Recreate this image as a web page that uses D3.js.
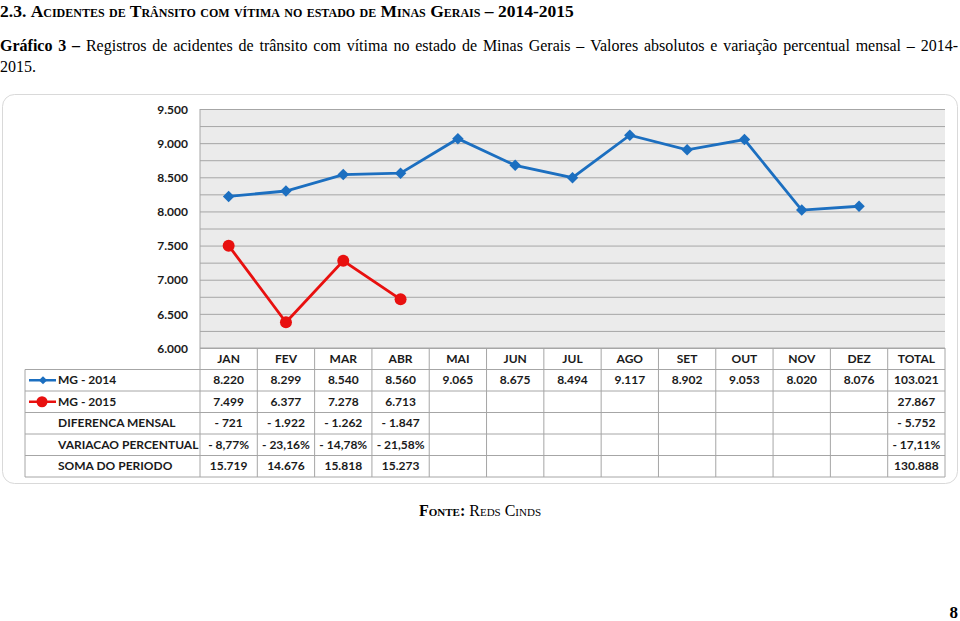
<!DOCTYPE html>
<html>
<head>
<meta charset="utf-8">
<title>Acidentes de trânsito MG 2014-2015</title>
<script src="https://cdn.jsdelivr.net/npm/d3@7"></script>
<style>
  body { margin: 0; background: #fff; }
  svg { display: block; }
  .serif { font-family: "Liberation Serif", "Times New Roman", serif; fill: #000; }
  .cal { font-family: Lato, "Open Sans", sans-serif; font-weight: bold; font-size: 12px; fill: #1a1a1a; }
  .grid line { stroke: #a6a6a6; stroke-width: 1; }
  .grid .domain { display: none; }
  .yaxis .domain, .yaxis line { display: none; }
</style>
</head>
<body>
<div id="chart"></div>
<script>
// data
var months = ["JAN","FEV","MAR","ABR","MAI","JUN","JUL","AGO","SET","OUT","NOV","DEZ"];
var columns = months.concat(["TOTAL"]);
var mg2014 = [8220, 8299, 8540, 8560, 9065, 8675, 8494, 9117, 8902, 9053, 8020, 8076];
var mg2015 = [7499, 6377, 7278, 6713];
var diferenca = [-721, -1922, -1262, -1847];
var variacao = [-8.77, -23.16, -14.78, -21.58];
var soma = [15719, 14676, 15818, 15273];
var totals = { mg2014: 103021, mg2015: 27867, diferenca: -5752, variacao: -17.11, soma: 130888 };
var yTicks = [6000, 6500, 7000, 7500, 8000, 8500, 9000, 9500];

var W = 960, H = 621;
var svg = d3.select("#chart").append("svg").attr("width", W).attr("height", H);

var loc = d3.formatLocale({decimal: ",", thousands: ".", grouping: [3], currency: ["", ""]});
var fInt = loc.format(",d");
var fPct = loc.format(".2f");
function num(v) { return v < 0 ? "- " + fInt(-v) : fInt(v); }
function pct(v) { return (v < 0 ? "- " + fPct(-v) : fPct(v)) + "%"; }

// heading
var h = svg.append("text").attr("class", "serif").attr("x", 0).attr("y", 17)
  .style("font-size", "17.5px").style("font-weight", "bold");
h.append("tspan").text("2.3. ");
h.append("tspan").style("font-variant", "small-caps").text("Acidentes de Trânsito com vítima no estado de Minas Gerais");
h.append("tspan").text(" – 2014-2015");

// justified caption line
function justify(words, x0, x1, y) {
  var g = svg.append("g");
  var nodes = words.map(function(w) {
    return g.append("text").attr("class", "serif").attr("y", y)
      .style("font-size", "16px").style("font-weight", w.b ? "bold" : "normal").text(w.t);
  });
  var widths = nodes.map(function(n) { return n.node().getComputedTextLength(); });
  var gap = (x1 - x0 - d3.sum(widths)) / (words.length - 1);
  var x = x0;
  nodes.forEach(function(n, i) { n.attr("x", x); x += widths[i] + gap; });
}
var cap1 = "Registros de acidentes de trânsito com vítima no estado de Minas Gerais – Valores absolutos e variação percentual mensal – 2014-".split(" ");
justify([{t:"Gráfico", b:1}, {t:"3", b:1}, {t:"–", b:1}].concat(cap1.map(function(t) { return {t: t}; })), 0, 958, 51);
svg.append("text").attr("class", "serif").attr("x", 0).attr("y", 72).style("font-size", "16px").text("2015.");

// chart panel
svg.append("rect").attr("x", 2.5).attr("y", 94.5).attr("width", 955).attr("height", 389)
  .attr("rx", 12).attr("fill", "#fff").attr("stroke", "#d9d9d9");

var pLeft = 200, pRight = 945, pTop = 109, pBottom = 348;
var x = d3.scaleBand().domain(columns).range([pLeft, pRight]);
var y = d3.scaleLinear().domain([6000, 9500]).range([pBottom, pTop]);

svg.append("rect").attr("x", pLeft).attr("y", pTop).attr("width", pRight - pLeft).attr("height", pBottom - pTop)
  .attr("fill", "#ebebeb");

svg.append("g").attr("class", "grid").attr("transform", "translate(" + pLeft + ",0)")
  .call(d3.axisLeft(y).tickValues(d3.range(6000, 9501, 250)).tickSize(-(pRight - pLeft)).tickFormat(""));

svg.append("g").attr("class", "yaxis").attr("transform", "translate(" + (pLeft - 12) + ",0)")
  .call(d3.axisLeft(y).tickValues(yTicks).tickSize(0).tickPadding(0).tickFormat(fInt))
  .selectAll("text").attr("class", "cal").attr("dy", "0.35em");

// table
var rowH = 21.5;
var rows = [
  { label: "MG - 2014", vals: mg2014.map(num), total: num(totals.mg2014), key: "b" },
  { label: "MG - 2015", vals: mg2015.map(num), total: num(totals.mg2015), key: "r" },
  { label: "DIFERENCA MENSAL", vals: diferenca.map(num), total: num(totals.diferenca) },
  { label: "VARIACAO PERCENTUAL", vals: variacao.map(pct), total: pct(totals.variacao) },
  { label: "SOMA DO PERIODO", vals: soma.map(num), total: num(totals.soma) }
];
var tTop = pBottom, tLeft = 25;
var tBottom = tTop + rowH * (rows.length + 1);
var tg = svg.append("g");
var lineCol = "#a6a6a6";
// horizontal lines
for (var i = 0; i <= rows.length + 1; i++) {
  var yy = tTop + i * rowH;
  tg.append("line").attr("x1", i === 0 ? pLeft : tLeft).attr("x2", pRight)
    .attr("y1", yy).attr("y2", yy).attr("stroke", lineCol);
}
// vertical lines
tg.append("line").attr("x1", tLeft).attr("x2", tLeft).attr("y1", tTop + rowH).attr("y2", tBottom).attr("stroke", lineCol);
columns.forEach(function(c) {
  tg.append("line").attr("x1", x(c)).attr("x2", x(c)).attr("y1", tTop).attr("y2", tBottom).attr("stroke", lineCol);
});
tg.append("line").attr("x1", pRight).attr("x2", pRight).attr("y1", tTop).attr("y2", tBottom).attr("stroke", lineCol);
// plot left border
svg.append("line").attr("x1", pLeft).attr("x2", pLeft).attr("y1", pTop).attr("y2", pBottom).attr("stroke", lineCol);

tg.selectAll("text.head").data(columns).enter().append("text").attr("class", "cal")
  .attr("x", function(d) { return x(d) + x.bandwidth() / 2; }).attr("y", tTop + rowH / 2)
  .attr("dy", "0.35em").attr("text-anchor", "middle").text(function(d) { return d; });

var blue = "#1c6fc0", red = "#e8100f";
var diamond = d3.symbol(d3.symbolSquare, 66)();
rows.forEach(function(r, i) {
  var cy = tTop + (i + 1) * rowH + rowH / 2;
  tg.append("text").attr("class", "cal").attr("x", 58).attr("y", cy).attr("dy", "0.35em").text(r.label);
  r.vals.forEach(function(v, j) {
    tg.append("text").attr("class", "cal").attr("x", x(months[j]) + x.bandwidth() / 2).attr("y", cy)
      .attr("dy", "0.35em").attr("text-anchor", "middle").text(v);
  });
  tg.append("text").attr("class", "cal").attr("x", x("TOTAL") + x.bandwidth() / 2).attr("y", cy)
    .attr("dy", "0.35em").attr("text-anchor", "middle").text(r.total);
  if (r.key) {
    var c = r.key === "b" ? blue : red;
    tg.append("line").attr("x1", 29).attr("x2", 56).attr("y1", cy).attr("y2", cy).attr("stroke", c).attr("stroke-width", 2.5);
    if (r.key === "b") {
      tg.append("path").attr("d", d3.symbol(d3.symbolSquare, 34)()).attr("transform", "translate(43," + cy + ") rotate(45)").attr("fill", c);
    } else {
      tg.append("circle").attr("cx", 42).attr("cy", cy).attr("r", 5.5).attr("fill", c);
    }
  }
});

// series
var line = d3.line().x(function(d, i) { return x(months[i]) + x.bandwidth() / 2; }).y(function(d) { return y(d); });
svg.append("path").datum(mg2014).attr("d", line).attr("fill", "none").attr("stroke", blue).attr("stroke-width", 2.8);
svg.append("path").datum(mg2015).attr("d", line).attr("fill", "none").attr("stroke", red).attr("stroke-width", 2.8);
svg.selectAll("path.dia").data(mg2014).enter().append("path")
  .attr("d", diamond)
  .attr("transform", function(d, i) { return "translate(" + (x(months[i]) + x.bandwidth() / 2) + "," + y(d) + ") rotate(45)"; })
  .attr("fill", blue);
svg.selectAll("circle.dot").data(mg2015).enter().append("circle")
  .attr("cx", function(d, i) { return x(months[i]) + x.bandwidth() / 2; })
  .attr("cy", function(d) { return y(d); }).attr("r", 6).attr("fill", red);

// source and page number
var src = svg.append("text").attr("class", "serif").attr("x", 480).attr("y", 516).attr("text-anchor", "middle")
  .style("font-size", "16px").style("font-variant", "small-caps");
src.append("tspan").style("font-weight", "bold").text("Fonte:");
src.append("tspan").text(" Reds Cinds");
svg.append("text").attr("class", "serif").attr("x", 958).attr("y", 618).attr("text-anchor", "end")
  .style("font-size", "17px").style("font-weight", "bold").text("8");
</script>
</body>
</html>
